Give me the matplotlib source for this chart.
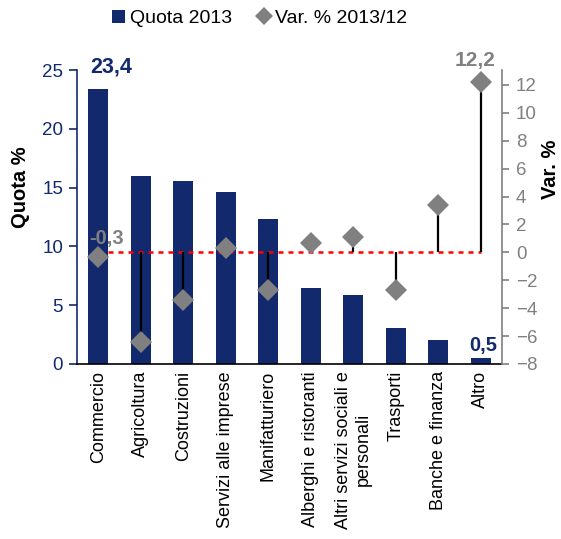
import matplotlib
matplotlib.use("Agg")
import matplotlib.pyplot as plt
from matplotlib.lines import Line2D
from matplotlib.patches import Patch

plt.rcParams['font.family'] = ['Liberation Sans', 'DejaVu Sans']

# Sector data
categories = ["Commercio", "Agricoltura", "Costruzioni", "Servizi alle imprese",
              "Manifatturiero", "Alberghi e ristoranti",
              "Altri servizi sociali e\npersonali", "Trasporti",
              "Banche e finanza", "Altro"]
quota_2013 = [23.4, 16.0, 15.6, 14.6, 12.3, 6.5, 5.9, 3.1, 2.0, 0.5]
var_2013_12 = [-0.3, -6.4, -3.4, 0.3, -2.7, 0.7, 1.1, -2.7, 3.4, 12.2]

NAVY = "#12296e"
GREY = "#808080"

fig = plt.figure(figsize=(5.61, 5.39), dpi=100)
ax = fig.add_axes([0.1373, 0.3247, 0.7575, 0.5454])
ax2 = ax.twinx()

x = list(range(len(categories)))

# Bars (primary axis)
ax.bar(x, quota_2013, width=0.46, color=NAVY, zorder=2)
ax.set_xlim(-0.5, len(categories) - 0.5)
ax.set_ylim(0, 25)
ax.set_yticks([0, 5, 10, 15, 20, 25])
ax.tick_params(axis='y', colors=NAVY, labelsize=13.5, direction='out',
               length=6, width=1.2, pad=4)
ax.tick_params(axis='x', length=0, pad=5, labelsize=13)
ax.set_xticks(x)
ax.set_xticklabels(categories, rotation=90, ha='center', va='top',
                   multialignment='center', color='black')
ax.spines['left'].set_color(NAVY)
ax.spines['left'].set_linewidth(1.2)
ax.spines['bottom'].set_color('black')
ax.spines['bottom'].set_linewidth(1.2)
ax.spines['top'].set_visible(False)
ax.spines['right'].set_visible(False)

# Variation markers (secondary axis)
ax2.set_ylim(-8, 13.07)
ax2.set_yticks(list(range(-8, 13, 2)))
ax2.tick_params(axis='y', colors=GREY, labelsize=13.5, direction='out',
                length=5, width=1.2, pad=5)
ax2.spines['right'].set_color(GREY)
ax2.spines['right'].set_linewidth(1.2)
ax2.spines['left'].set_visible(False)
ax2.spines['top'].set_visible(False)
ax2.spines['bottom'].set_visible(False)

ax2.plot([x[0], x[-1]], [0, 0], color='red', lw=1.8, linestyle=(0, (2, 2)),
         zorder=3)
ax2.vlines(x, 0, var_2013_12, color='black', lw=1.6, zorder=4)
ax2.plot(x, var_2013_12, linestyle='none', marker='D', markersize=11,
         color=GREY, markeredgewidth=0, zorder=5)

# Value labels
ax.annotate("23,4", (x[0], quota_2013[0]), xytext=(9, 8), textcoords='offset points',
            ha='center', va='bottom', color=NAVY, fontsize=15.5, fontweight='bold',
            annotation_clip=False)
ax.annotate("0,5", (x[-1], quota_2013[-1]), xytext=(2, 2), textcoords='offset points',
            ha='center', va='bottom', color=NAVY, fontsize=14.5, fontweight='bold',
            annotation_clip=False)
ax2.annotate("-0,3", (x[0], var_2013_12[0]), xytext=(6, 6), textcoords='offset points',
             ha='center', va='bottom', color=GREY, fontsize=14.5, fontweight='bold',
             annotation_clip=False)
ax2.annotate("12,2", (x[-1], var_2013_12[-1]), xytext=(-4, 9), textcoords='offset points',
             ha='center', va='bottom', color=GREY, fontsize=15, fontweight='bold',
             annotation_clip=False)

# Axis titles
fig.text(0.036, 0.653, "Quota %", rotation=90, ha='center', va='center',
         fontsize=14.5, fontweight='bold', color='black')
fig.text(0.982, 0.685, "Var. %", rotation=90, ha='center', va='center',
         fontsize=14.5, fontweight='bold', color='black')

# Legend
handles = [Patch(facecolor=NAVY, edgecolor='none', label="Quota 2013"),
           Line2D([0], [0], marker='D', linestyle='none', markersize=9,
                  color=GREY, markeredgewidth=0, label="Var. % 2013/12")]
fig.legend(handles=handles, loc='center', bbox_to_anchor=(0.463, 0.966), ncol=2,
           frameon=False, fontsize=14, handlelength=0.65, handletextpad=0.25,
           columnspacing=1.3, handleheight=0.65)

fig.savefig("out.png", dpi=100)
